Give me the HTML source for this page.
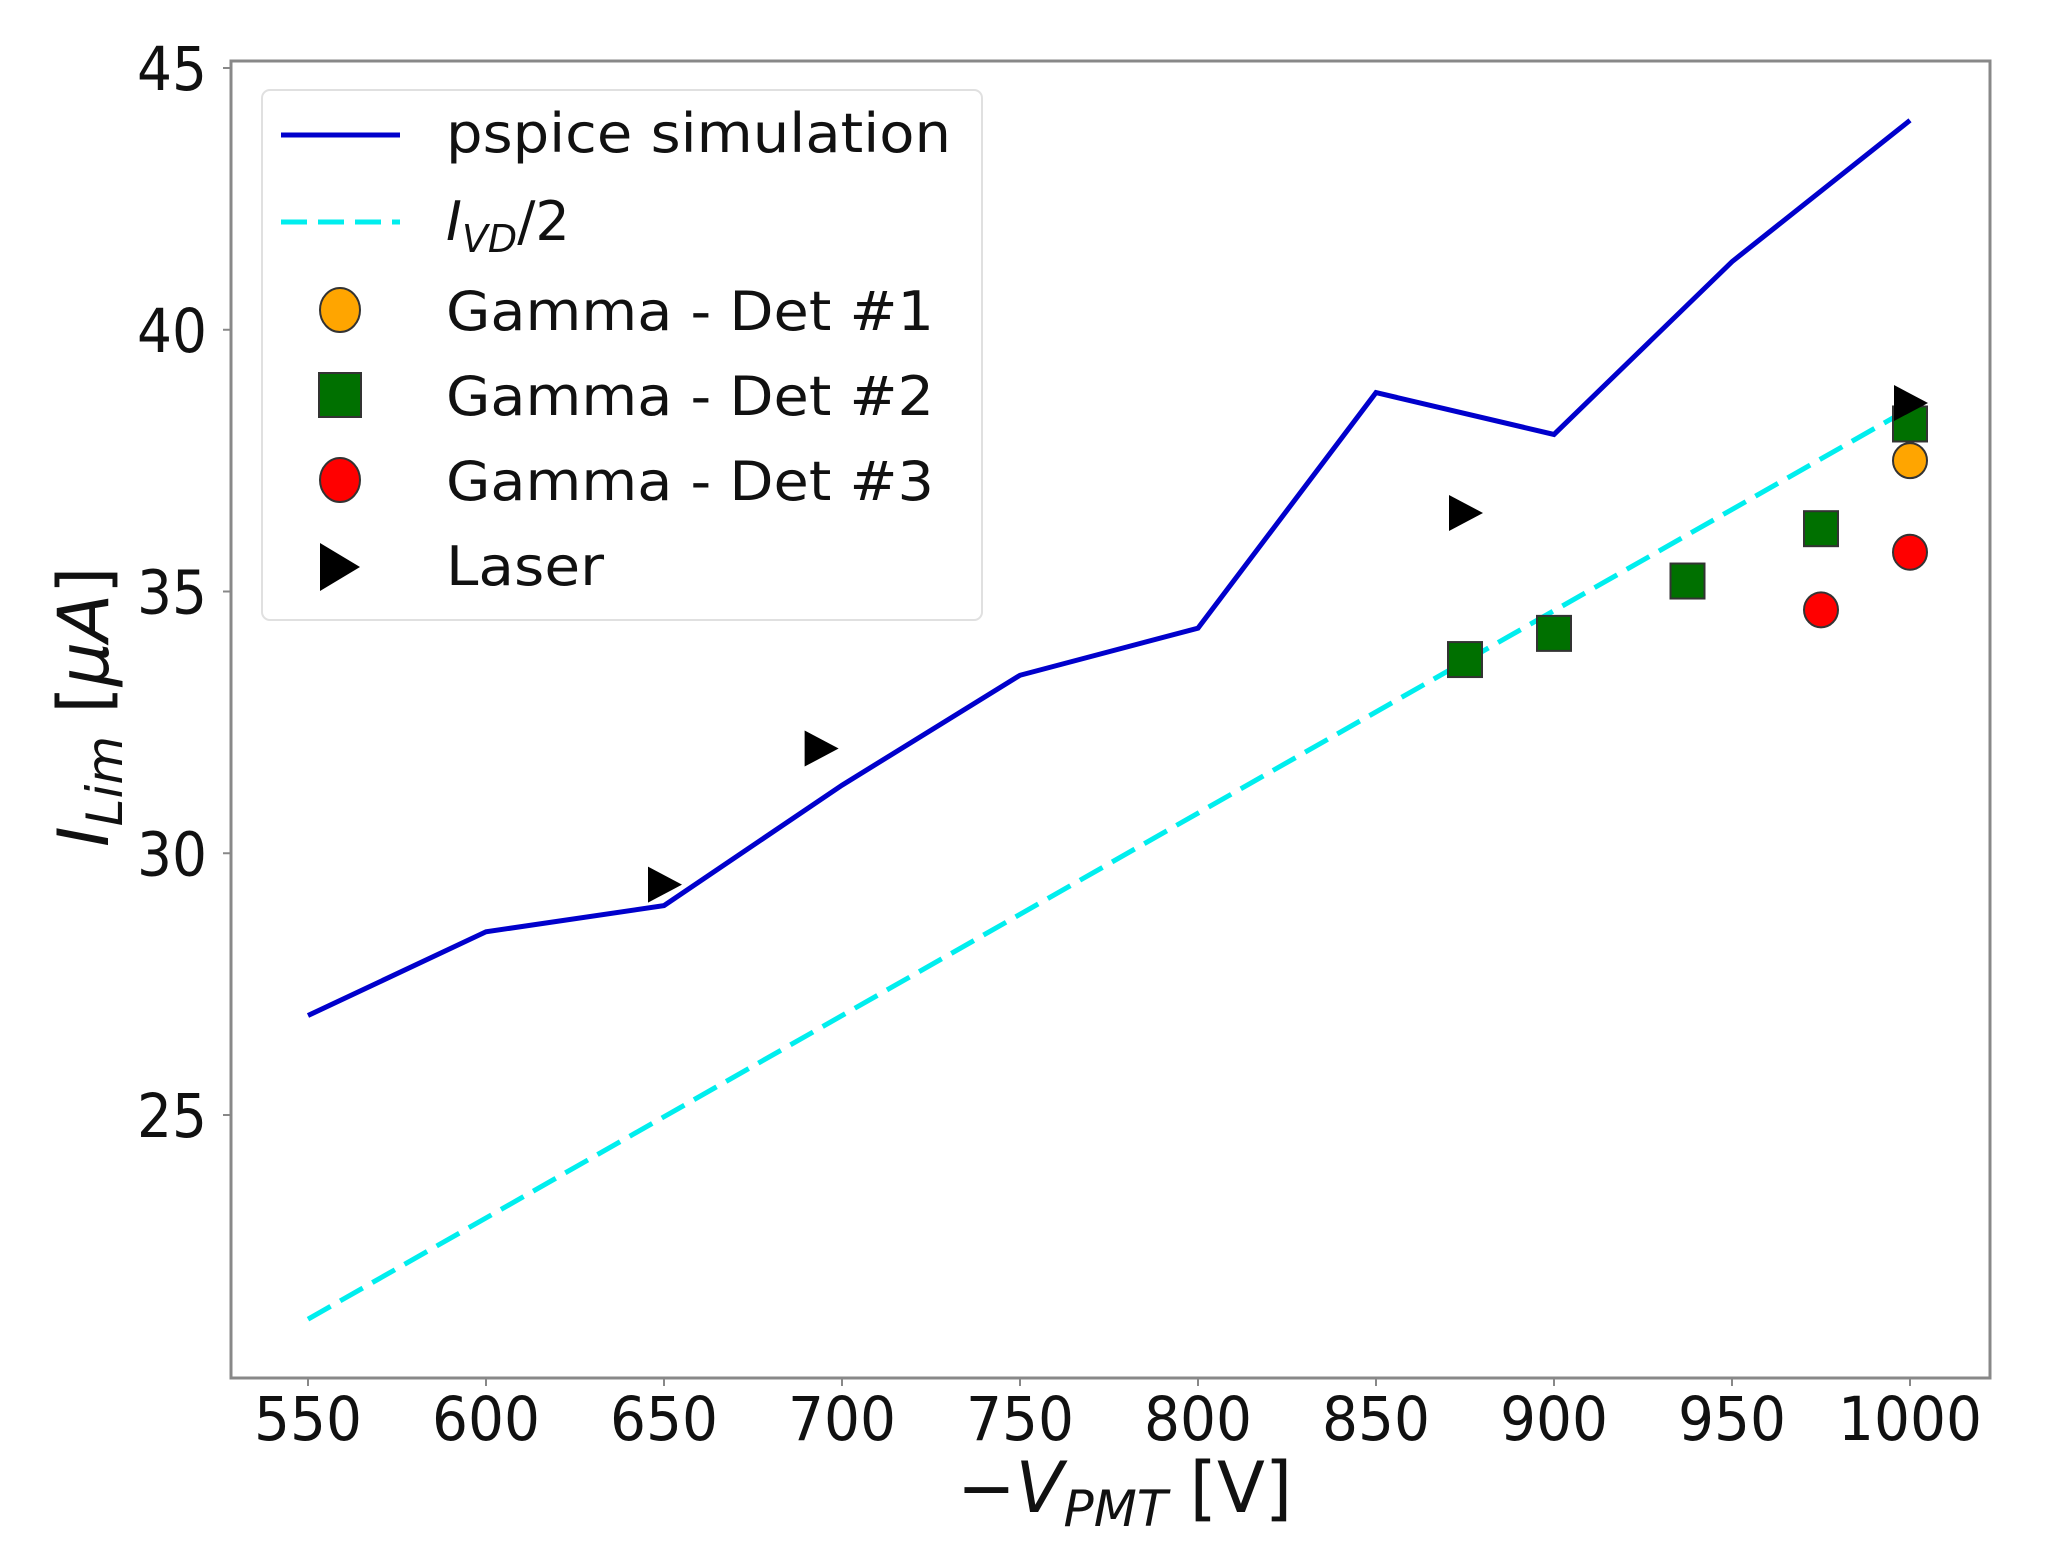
<!DOCTYPE html>
<html><head><meta charset="utf-8"><style>
html,body{margin:0;padding:0;background:#fff;}
svg{display:block;font-family:"DejaVu Sans","Liberation Sans",sans-serif;}
</style></head><body>
<svg id="chart" width="2049" height="1566" viewBox="0 0 2049 1566" xmlns="http://www.w3.org/2000/svg">
<rect x="0" y="0" width="2049" height="1566" fill="#fff"/>
<g id="plot"></g>
<g id="axes"></g>
<g id="legend">
  <rect x="262" y="90" width="720" height="530" rx="8" fill="#fff" fill-opacity="0.85" stroke="#e0e0e0" stroke-width="2"/>
  <line x1="281" y1="135" x2="400" y2="135" stroke="#0000cc" stroke-width="5"/>
  <text x="446" y="152" font-size="54" textLength="505" lengthAdjust="spacingAndGlyphs" fill="#111">pspice simulation</text>
  <line x1="281" y1="222" x2="400" y2="222" stroke="#00eeee" stroke-width="5" stroke-dasharray="26,11"/>
  <text x="446" y="240" font-size="54" fill="#111"><tspan font-style="italic">I</tspan><tspan font-style="italic" font-size="38" dy="12">VD</tspan><tspan dy="-12">/2</tspan></text>
  <ellipse cx="340" cy="310" rx="20" ry="22" fill="#ffa500" stroke="#333" stroke-width="2"/>
  <text x="446" y="330" font-size="54" textLength="488" lengthAdjust="spacingAndGlyphs" fill="#111">Gamma - Det #1</text>
  <rect x="319" y="373" width="42" height="44" fill="#007000" stroke="#333" stroke-width="2"/>
  <text x="446" y="415" font-size="54" textLength="488" lengthAdjust="spacingAndGlyphs" fill="#111">Gamma - Det #2</text>
  <ellipse cx="340" cy="480" rx="20" ry="22" fill="#ff0000" stroke="#333" stroke-width="2"/>
  <text x="446" y="500" font-size="54" textLength="488" lengthAdjust="spacingAndGlyphs" fill="#111">Gamma - Det #3</text>
  <polygon points="320,543 360,567 320,591" fill="#000"/>
  <text x="446" y="585" font-size="54" textLength="158" lengthAdjust="spacingAndGlyphs" fill="#111">Laser</text>
</g>
<text x="957" y="1512" font-size="70" fill="#111">−<tspan font-style="italic">V</tspan><tspan font-style="italic" font-size="50" dy="14">PMT</tspan><tspan dy="-14"> [V]</tspan></text>
<text transform="translate(108,847) rotate(-90)" font-size="70" fill="#111"><tspan font-style="italic">I</tspan><tspan font-style="italic" font-size="50" dy="14">Lim</tspan><tspan dy="-14"> [</tspan><tspan font-style="italic">μA</tspan>]</text>
<script>
const xTicks = [550, 600, 650, 700, 750, 800, 850, 900, 950, 1000];
const yTicks = [25, 30, 35, 40, 45];
const pspiceX = [550, 600, 650, 700, 750, 800, 850, 900, 950, 1000];
const pspiceY = [26.9, 28.5, 29.0, 31.3, 33.4, 34.3, 38.8, 38.0, 41.3, 44.0];
const ivdX = [550, 1000];
const ivdY = [21.1, 38.5];
const det1X = [1000];
const det1Y = [37.5];
const det2X = [875, 900, 937.5, 975, 1000];
const det2Y = [33.7, 34.2, 35.2, 36.2, 38.2];
const det3X = [975, 1000];
const det3Y = [34.65, 35.75];
const laserX = [650, 694, 875, 1000];
const laserY = [29.4, 32.0, 36.5, 38.6];

const NS = 'http://www.w3.org/2000/svg';
const L = 231, R = 1990, T = 61, B = 1378;
function xs(v){ return 308 + (v - 550) * (1910 - 308) / 450; }
function ys(v){ return 68 + (45 - v) * 52.35; }
function mk(tag, attrs, parent){ const e = document.createElementNS(NS, tag); for (const k in attrs) e.setAttribute(k, attrs[k]); parent.appendChild(e); return e; }
const plot = document.getElementById('plot');
const axes = document.getElementById('axes');

let sp = mk('rect', {x:L, y:T, width:R-L, height:B-T, fill:'none', stroke:'#888', 'stroke-width':3}, axes);



xTicks.forEach(v => {
  const x = xs(v);
  const t = mk('line', {x1:x, y1:B, x2:x, y2:B+8, stroke:'#888', 'stroke-width':2}, axes);
  
  
  const s = String(v);
  const lb = mk('text', {x:x, y:1440, 'font-size':61, 'text-anchor':'middle', fill:'#111', textLength: s.length*36, lengthAdjust:'spacingAndGlyphs'}, axes);
  lb.textContent = s;
  
  
});
yTicks.forEach(v => {
  const y = ys(v);
  const t = mk('line', {x1:L-8, y1:y, x2:L, y2:y, stroke:'#888', 'stroke-width':2}, axes);
  
  
  const s = String(v);
  const lb = mk('text', {x:207, y:y+22, 'font-size':61, 'text-anchor':'end', fill:'#111', textLength: s.length*35, lengthAdjust:'spacingAndGlyphs'}, axes);
  lb.textContent = s;
  
  
});

function pts(X, Y){ return X.map((x,i)=> xs(x)+','+ys(Y[i])).join(' '); }
const ivd = mk('polyline', {points: pts(ivdX, ivdY), fill:'none', stroke:'#00eeee', 'stroke-width':5, 'stroke-dasharray':'26,11'}, plot);


const ps = mk('polyline', {points: pts(pspiceX, pspiceY), fill:'none', stroke:'#0000cc', 'stroke-width':5, 'stroke-linejoin':'miter'}, plot);



det2X.forEach((v,i) => {
  const x = xs(v), y = ys(det2Y[i]);
  const e = mk('rect', {x:x-17, y:y-17.5, width:34, height:35, fill:'#007000', stroke:'#333', 'stroke-width':2}, plot);
  
  
});
det1X.forEach((v,i) => {
  const e = mk('ellipse', {cx:xs(v), cy:ys(det1Y[i]), rx:17, ry:17.5, fill:'#ffa500', stroke:'#333', 'stroke-width':2}, plot);
  
  
});
det3X.forEach((v,i) => {
  const e = mk('ellipse', {cx:xs(v), cy:ys(det3Y[i]), rx:17, ry:17.5, fill:'#ff0000', stroke:'#333', 'stroke-width':2}, plot);
  
  
});
laserX.forEach((v,i) => {
  const x = xs(v), y = ys(laserY[i]);
  const e = mk('polygon', {points: (x-16)+','+(y-18)+' '+(x+18)+','+y+' '+(x-16)+','+(y+18), fill:'#000'}, plot);
  
  
});
</script>
</svg>
</body></html>
